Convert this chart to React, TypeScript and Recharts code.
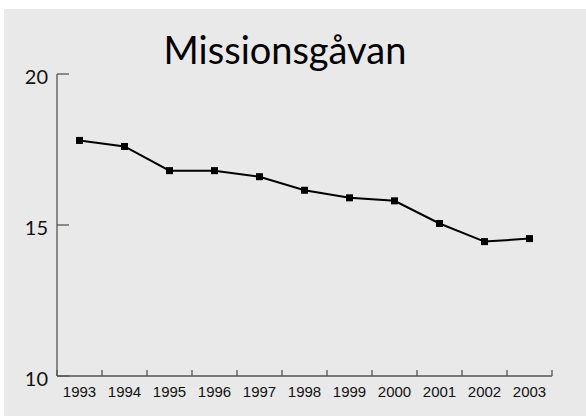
import { LineChart, Line, XAxis, YAxis } from "recharts";

const years = [1993, 1994, 1995, 1996, 1997, 1998, 1999, 2000, 2001, 2002, 2003];
const gifts = [17.8, 17.6, 16.8, 16.8, 16.6, 16.15, 15.9, 15.8, 15.05, 14.45, 14.55];
const yearEdges = [1992.5, 1993.5, 1994.5, 1995.5, 1996.5, 1997.5, 1998.5, 1999.5, 2000.5, 2001.5, 2002.5, 2003.5];
const yTicks = [10, 15, 20];
const title = "Missionsgåvan";

const data = years.map((year, i) => ({ year, value: gifts[i] }));
const xTicks = [...yearEdges, ...years].sort((a, b) => a - b);

const AXIS = "#555";

function XTick({ x, y, payload }: any) {
  const v = payload.value;
  if (Number.isInteger(v)) {
    return (
      <text x={x} y={y + 21} textAnchor="middle" fontFamily="'Liberation Sans', Arial, sans-serif" fontSize={15} fill="#111">
        {v}
      </text>
    );
  }
  return <line x1={x} x2={x} y1={y} y2={y - 6} stroke={AXIS} strokeWidth={1.3} />;
}

function YTick({ x, y, payload }: any) {
  return (
    <g>
      <line x1={x} x2={x + 12} y1={y} y2={y} stroke={AXIS} strokeWidth={1.3} />
      <text x={x - 9} y={y + 9.5} textAnchor="end" fontFamily="Lato, sans-serif" fontSize={20} fill="#111">
        {payload.value}
      </text>
    </g>
  );
}

function Square(props: any) {
  const { cx, cy, index } = props;
  if (cx == null || cy == null) return <g key={index} />;
  return <rect key={index} x={cx - 3.5} y={cy - 3.5} width={7} height={7} fill="#000" />;
}

export default function App() {
  return (
    <div style={{ position: "absolute", left: 0, top: 0, width: 586, height: 416 }}>
      <div style={{ position: "absolute", left: 4, top: 9, right: 0, bottom: 0, background: "#e9e9e9" }} />
      <div style={{ position: "absolute", left: 0, top: 0 }}>
        <LineChart width={586} height={416} data={data} margin={{ top: 74, right: 34, bottom: 10, left: 17 }}>
          <XAxis
            dataKey="year"
            type="number"
            domain={[1992.5, 2003.5]}
            ticks={xTicks}
            interval={0}
            tickSize={0}
            tickMargin={0}
            tickLine={false}
            axisLine={{ stroke: AXIS, strokeWidth: 1.3 }}
            tick={(p: any) => <XTick {...p} />}
            height={30}
          />
          <YAxis
            type="number"
            domain={[10, 20]}
            ticks={yTicks}
            interval={0}
            tickSize={0}
            tickMargin={0}
            tickLine={false}
            axisLine={{ stroke: AXIS, strokeWidth: 1.3 }}
            tick={(p: any) => <YTick {...p} />}
            width={40}
          />
          <Line
            dataKey="value"
            type="linear"
            stroke="#000"
            strokeWidth={2}
            dot={(p: any) => <Square {...p} />}
            activeDot={false}
            isAnimationActive={false}
          />
        </LineChart>
      </div>
      <svg width={586} height={416} style={{ position: "absolute", left: 0, top: 0, pointerEvents: "none" }}>
        <text x={285} y={64} textAnchor="middle" fontFamily="Lato, sans-serif" fontSize={38} fill="#000">
          {title}
        </text>
      </svg>
    </div>
  );
}
